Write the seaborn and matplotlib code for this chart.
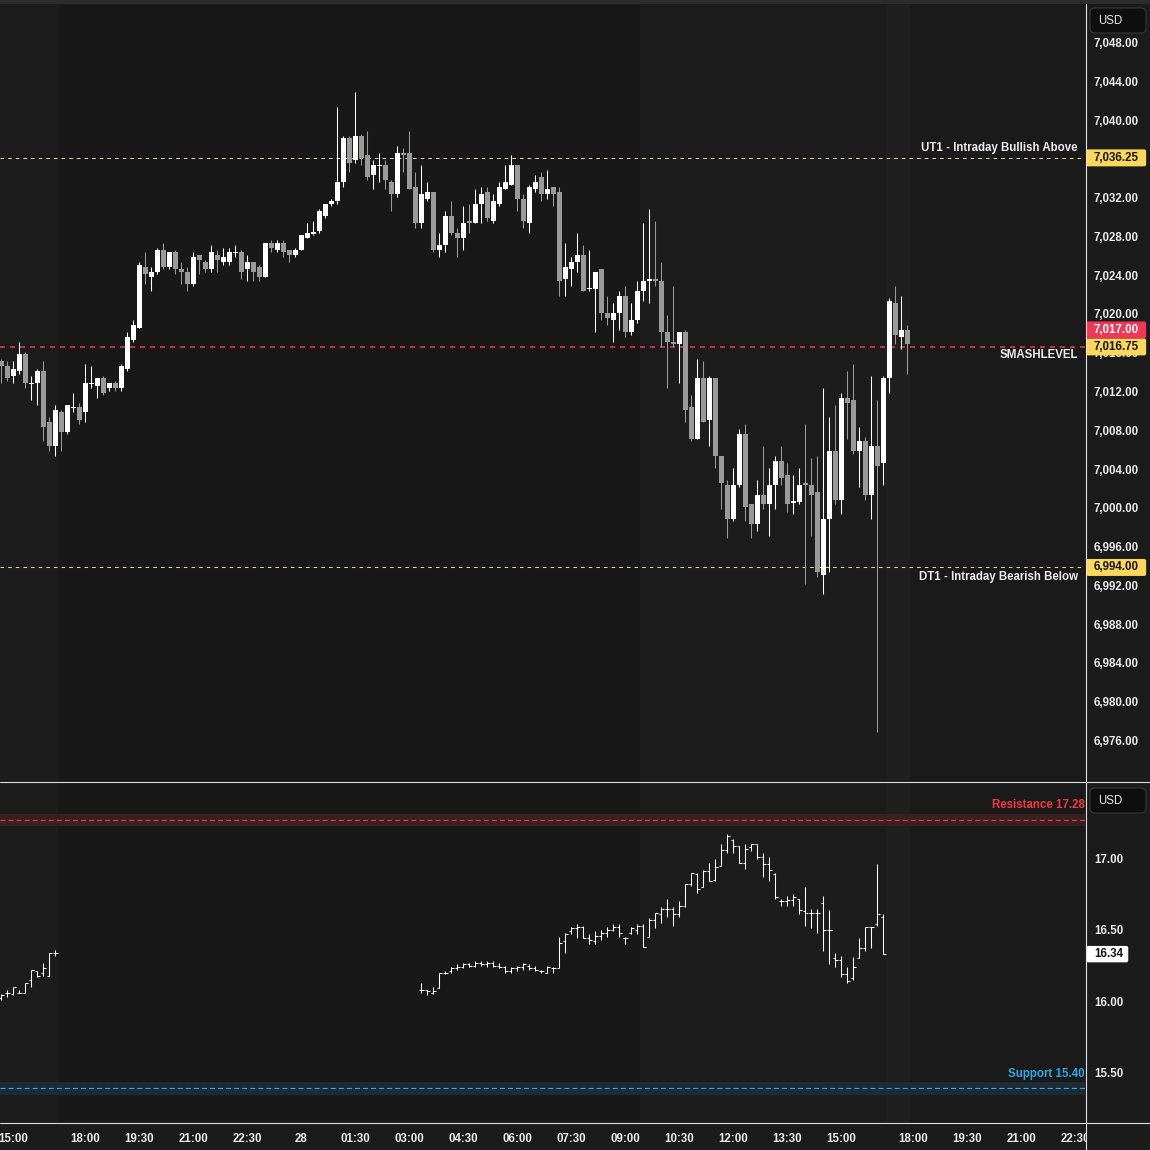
"""ES 10-minute candles with key levels, VIX OHLC bars underneath."""

import numpy as np
import pandas as pd
import matplotlib

matplotlib.use("Agg")
import matplotlib.pyplot as plt
import matplotlib.transforms as mtransforms
from matplotlib.lines import Line2D
from matplotlib.patches import Rectangle, FancyBboxPatch
import seaborn as sns

# ---------------------------------------------------------------- data
# ES 10-minute candles, first bar opens 27th 14:40 (session break 17:00-18:00 skipped)
es_start = (27, "14:40")
es_open = [
    7015.25, 7014.75, 7013.75, 7014.25, 7016.0, 7013.0, 7013.0, 7014.25, 7009.0, 7006.5,
    7010.0, 7008.0, 7010.5, 7010.5, 7010.0, 7013.0, 7012.75, 7013.5, 7012.5, 7013.0,
    7012.5, 7014.5, 7017.5, 7018.75, 7025.0, 7024.0, 7024.5, 7026.75, 7025.0, 7026.5,
    7024.75, 7024.5, 7023.25, 7026.25, 7025.5, 7024.75, 7026.25, 7025.5, 7025.5, 7026.5,
    7026.5, 7024.75, 7025.5, 7025.0, 7024.0, 7027.5, 7026.75, 7027.5, 7026.75, 7026.25,
    7026.75, 7028.0, 7028.5, 7028.75, 7030.25, 7031.5, 7031.75, 7033.75, 7038.25, 7036.0,
    7038.5, 7036.5, 7034.5, 7035.5, 7035.5, 7033.75, 7032.5, 7036.75, 7036.75, 7033.25,
    7029.5, 7032.0, 7032.75, 7026.75, 7027.25, 7030.25, 7028.5, 7028.0, 7029.75, 7029.5,
    7031.5, 7032.75, 7029.75, 7031.5, 7033.0, 7033.5, 7035.5, 7032.0, 7029.5, 7033.0,
    7034.25, 7032.5, 7033.25, 7032.75, 7023.75, 7024.75, 7025.5, 7026.25, 7022.75, 7022.75,
    7024.75, 7020.25, 7019.5, 7020.25, 7022.0, 7018.25, 7019.5, 7022.5, 7023.5, 7023.75,
    7023.5, 7018.25, 7017.25, 7017.0, 7018.25, 7010.5, 7007.25, 7013.5, 7009.25, 7013.5,
    7005.5, 7002.5, 6999.0, 7002.5, 7007.75, 7000.5, 6998.5, 7001.5, 7000.5, 7002.5,
    7005.0, 7003.5, 7000.75, 7000.75, 7002.75, 7002.5, 7001.75, 6993.25, 6999.0, 7006.0,
    7001.0, 7011.5, 7011.25, 7006.0, 7007.0, 7001.5, 7006.5, 7004.75, 7013.5, 7021.25,
    7017.75, 7018.5,
]
es_high = [
    7015.5, 7015.25, 7015.25, 7017.25, 7016.25, 7013.75, 7014.5, 7015.25, 7009.5, 7010.75,
    7010.25, 7010.75, 7012.0, 7011.0, 7015.0, 7014.75, 7013.5, 7013.75, 7013.0, 7013.25,
    7015.0, 7018.25, 7019.5, 7025.5, 7026.5, 7025.0, 7027.0, 7027.5, 7026.5, 7026.75,
    7025.5, 7025.0, 7026.5, 7026.25, 7025.75, 7027.25, 7026.75, 7027.0, 7027.0, 7027.25,
    7026.75, 7026.25, 7025.5, 7025.25, 7027.5, 7027.75, 7027.75, 7027.75, 7026.75, 7027.0,
    7028.25, 7029.5, 7029.75, 7031.0, 7031.5, 7032.0, 7041.5, 7038.5, 7038.5, 7043.0,
    7038.75, 7039.0, 7036.0, 7036.75, 7036.0, 7034.0, 7037.5, 7037.25, 7039.0, 7034.75,
    7035.5, 7033.75, 7032.75, 7028.5, 7030.75, 7031.75, 7029.0, 7031.25, 7031.5, 7033.0,
    7033.25, 7033.25, 7032.5, 7033.75, 7035.5, 7036.5, 7035.5, 7032.5, 7033.5, 7034.5,
    7034.75, 7035.0, 7033.25, 7033.25, 7027.5, 7026.0, 7028.5, 7027.25, 7026.75, 7024.5,
    7024.75, 7022.0, 7021.25, 7022.5, 7023.0, 7021.25, 7023.5, 7029.5, 7031.0, 7029.75,
    7025.5, 7020.0, 7023.0, 7018.25, 7018.5, 7011.75, 7015.5, 7015.25, 7013.75, 7013.5,
    7005.5, 7003.0, 7004.25, 7008.25, 7008.75, 7000.5, 7003.0, 7006.5, 7004.25, 7005.5,
    7006.5, 7004.75, 7003.5, 7004.25, 7008.75, 7005.25, 7005.5, 7012.5, 7009.5, 7010.75,
    7012.0, 7014.25, 7015.0, 7008.5, 7007.5, 7013.75, 7011.25, 7013.75, 7021.75, 7023.0,
    7022.0, 7019.0,
]
es_low = [
    7013.0, 7013.25, 7013.0, 7014.0, 7012.5, 7011.25, 7010.75, 7007.0, 7006.0, 7005.5,
    7006.0, 7007.75, 7010.0, 7008.75, 7009.0, 7012.5, 7011.5, 7011.75, 7012.25, 7012.25,
    7012.25, 7014.25, 7017.25, 7018.75, 7023.25, 7022.5, 7024.25, 7024.75, 7024.75, 7024.25,
    7023.25, 7022.5, 7023.0, 7024.25, 7024.5, 7024.5, 7024.5, 7025.25, 7025.25, 7026.0,
    7023.75, 7023.5, 7023.5, 7023.5, 7024.0, 7026.5, 7026.5, 7026.0, 7025.5, 7026.0,
    7026.75, 7028.0, 7028.25, 7028.5, 7030.0, 7031.25, 7031.5, 7033.25, 7034.75, 7035.75,
    7035.5, 7034.0, 7033.0, 7033.75, 7033.0, 7030.75, 7032.25, 7034.75, 7033.0, 7029.0,
    7029.0, 7031.75, 7026.5, 7026.0, 7026.5, 7028.25, 7026.0, 7026.75, 7028.5, 7029.5,
    7029.5, 7029.75, 7029.5, 7031.25, 7033.0, 7033.5, 7030.75, 7029.0, 7028.5, 7032.75,
    7031.75, 7032.0, 7031.25, 7022.0, 7022.0, 7023.0, 7024.5, 7022.5, 7022.5, 7018.25,
    7019.5, 7019.0, 7017.25, 7018.5, 7017.75, 7018.0, 7019.25, 7021.5, 7021.25, 7023.0,
    7016.75, 7012.5, 7016.75, 7013.0, 7009.0, 7007.0, 7007.25, 7009.0, 7006.5, 7004.25,
    7000.0, 6997.0, 6998.75, 7002.25, 6998.75, 6997.0, 6997.75, 7000.0, 6997.25, 7000.0,
    7002.5, 6999.75, 6999.5, 7000.5, 6992.25, 6997.25, 6993.0, 6991.25, 6993.5, 7000.5,
    6999.5, 7007.25, 7005.75, 7002.25, 7001.0, 6999.0, 6977.0, 7002.5, 7012.0, 7017.0,
    7016.5, 7014.0,
]
es_close = [
    7014.75, 7013.5, 7014.5, 7016.0, 7013.0, 7013.0, 7014.25, 7008.5, 7006.5, 7010.25,
    7008.0, 7010.75, 7010.5, 7009.25, 7013.0, 7013.0, 7013.5, 7012.0, 7013.0, 7012.5,
    7014.75, 7017.75, 7019.0, 7025.25, 7024.25, 7024.5, 7026.75, 7025.0, 7026.5, 7024.75,
    7024.5, 7023.25, 7026.0, 7025.75, 7024.75, 7026.5, 7025.75, 7026.0, 7026.5, 7026.5,
    7024.5, 7025.5, 7024.5, 7024.0, 7027.5, 7027.0, 7027.5, 7026.5, 7026.25, 7026.75,
    7028.25, 7028.5, 7028.5, 7030.75, 7031.5, 7031.75, 7033.75, 7038.25, 7035.75, 7038.5,
    7036.25, 7034.25, 7035.5, 7035.5, 7034.0, 7032.5, 7036.75, 7036.5, 7033.0, 7029.5,
    7032.5, 7032.75, 7026.75, 7027.25, 7030.25, 7028.5, 7028.0, 7029.5, 7029.5, 7031.5,
    7032.5, 7030.0, 7031.75, 7033.25, 7033.75, 7035.5, 7032.0, 7029.75, 7033.25, 7033.75,
    7032.5, 7033.0, 7032.5, 7023.5, 7025.0, 7025.5, 7026.25, 7022.5, 7022.75, 7024.5,
    7020.25, 7019.75, 7020.25, 7022.0, 7018.25, 7019.5, 7022.5, 7023.5, 7023.75, 7023.5,
    7018.25, 7017.25, 7017.0, 7018.25, 7010.25, 7007.25, 7013.5, 7009.0, 7013.5, 7005.5,
    7002.75, 6999.0, 7002.5, 7007.75, 7000.25, 6998.5, 7001.5, 7000.5, 7002.5, 7005.0,
    7003.25, 7000.5, 7000.75, 7002.5, 7002.5, 7001.5, 6993.5, 6999.0, 7006.0, 7001.0,
    7011.5, 7011.0, 7006.0, 7007.0, 7001.5, 7006.5, 7004.5, 7013.5, 7021.5, 7018.0,
    7018.5, 7017.0,
]

# VIX 10-minute OHLC bars (two stretches, nothing overnight)
vix_start_a = (27, "14:40")
vix_open_a = [16.03, 16.07, 16.06, 16.07, 16.07, 16.16, 16.22, 16.21, 16.19, 16.35]
vix_high_a = [16.06, 16.09, 16.11, 16.09, 16.14, 16.23, 16.22, 16.28, 16.35, 16.37]
vix_low_a = [16.02, 16.04, 16.05, 16.07, 16.07, 16.11, 16.18, 16.19, 16.19, 16.33]
vix_close_a = [16.05, 16.07, 16.11, 16.07, 16.14, 16.23, 16.19, 16.24, 16.35, 16.35]

vix_start_b = (28, "03:20")
vix_open_b = [
    16.09, 16.09, 16.07, 16.10, 16.21, 16.22, 16.24, 16.25, 16.27, 16.26,
    16.28, 16.27, 16.28, 16.26, 16.25, 16.22, 16.24, 16.25, 16.26, 16.24,
    16.22, 16.21, 16.24, 16.24, 16.43, 16.50, 16.52, 16.53, 16.45, 16.43,
    16.47, 16.49, 16.51, 16.53, 16.45, 16.49, 16.51, 16.54, 16.46, 16.58,
    16.62, 16.66, 16.66, 16.62, 16.68, 16.83, 16.90, 16.81, 16.92, 16.86,
    16.96, 17.07, 17.14, 17.10, 16.98, 17.09, 17.11, 17.02, 16.97, 16.90,
    16.71, 16.71, 16.72, 16.73, 16.64, 16.63, 16.63, 16.70, 16.51, 16.31,
    16.30, 16.20, 16.17, 16.31, 16.38, 16.53, 16.55, 16.60,
]
vix_high_b = [
    16.14, 16.09, 16.11, 16.21, 16.22, 16.25, 16.27, 16.28, 16.28, 16.29,
    16.29, 16.29, 16.29, 16.28, 16.26, 16.25, 16.26, 16.28, 16.27, 16.26,
    16.23, 16.26, 16.25, 16.46, 16.49, 16.53, 16.55, 16.54, 16.48, 16.50,
    16.51, 16.53, 16.55, 16.55, 16.46, 16.53, 16.55, 16.55, 16.59, 16.63,
    16.67, 16.73, 16.67, 16.71, 16.83, 16.91, 16.91, 16.93, 16.98, 17.01,
    17.11, 17.18, 17.15, 17.10, 17.11, 17.11, 17.11, 17.05, 17.02, 16.91,
    16.73, 16.75, 16.76, 16.73, 16.81, 16.66, 16.66, 16.75, 16.65, 16.35,
    16.33, 16.25, 16.32, 16.45, 16.53, 16.53, 16.97, 16.62,
]
vix_low_b = [
    16.07, 16.05, 16.06, 16.10, 16.20, 16.21, 16.23, 16.24, 16.25, 16.25,
    16.26, 16.25, 16.25, 16.24, 16.21, 16.21, 16.22, 16.23, 16.23, 16.22,
    16.21, 16.21, 16.21, 16.24, 16.35, 16.48, 16.45, 16.45, 16.41, 16.41,
    16.44, 16.46, 16.50, 16.46, 16.41, 16.48, 16.48, 16.39, 16.46, 16.52,
    16.56, 16.60, 16.54, 16.60, 16.67, 16.82, 16.77, 16.81, 16.85, 16.85,
    16.96, 17.05, 17.05, 16.98, 16.94, 17.06, 17.01, 16.88, 16.85, 16.73,
    16.68, 16.68, 16.68, 16.62, 16.54, 16.52, 16.49, 16.36, 16.27, 16.25,
    16.18, 16.14, 16.16, 16.31, 16.36, 16.38, 16.54, 16.34,
]
vix_close_b = [
    16.09, 16.08, 16.08, 16.21, 16.21, 16.24, 16.25, 16.27, 16.26, 16.28,
    16.27, 16.28, 16.26, 16.25, 16.22, 16.24, 16.25, 16.27, 16.24, 16.23,
    16.22, 16.25, 16.24, 16.42, 16.48, 16.52, 16.53, 16.45, 16.44, 16.47,
    16.49, 16.51, 16.53, 16.49, 16.45, 16.52, 16.54, 16.39, 16.58, 16.63,
    16.66, 16.66, 16.62, 16.68, 16.83, 16.91, 16.80, 16.92, 16.85, 16.95,
    17.07, 17.17, 17.10, 16.98, 17.08, 17.11, 17.02, 16.97, 16.93, 16.74,
    16.71, 16.72, 16.74, 16.65, 16.63, 16.63, 16.63, 16.51, 16.51, 16.30,
    16.20, 16.15, 16.25, 16.38, 16.53, 16.53, 16.62, 16.34,
]

tick_days = [27, 27, 27, 27, 27, 28, 28, 28, 28, 28, 28, 28, 28, 28, 28, 28, 28, 28, 28, 28]
tick_times = ["15:00", "18:00", "19:30", "21:00", "22:30", "00:00", "01:30", "03:00",
              "04:30", "06:00", "07:30", "09:00", "10:30", "12:00", "13:30", "15:00",
              "18:00", "19:30", "21:00", "22:30"]
tick_labels = ["15:00", "18:00", "19:30", "21:00", "22:30", "28", "01:30", "03:00",
               "04:30", "06:00", "07:30", "09:00", "10:30", "12:00", "13:30", "15:00",
               "18:00", "19:30", "21:00", "22:30"]

# session shading: (day, start, day, end, colour)
shade_spans = [
    (27, "09:30", 27, "16:20", "#1c1c1c"),
    (28, "09:30", 28, "16:20", "#1c1c1c"),
    (28, "16:20", 28, "18:00", "#1f1f1f"),
    (28, "18:00", 28, "23:50", "#1a1a1a"),
]

price_range = (6971.97, 7052.02)
price_ticks = [6976, 6980, 6984, 6988, 6992, 6996, 7000, 7004, 7008, 7012,
               7016, 7020, 7024, 7028, 7032, 7040, 7044, 7048]
vix_range = (15.163, 17.547)
vix_ticks = [15.50, 16.00, 16.50, 17.00]

ut1_level = 7036.25
smash_level = 7016.75
dt1_level = 6994.00
last_price = 7017.00
resistance = 17.28
support = 15.40
vix_last = 16.34

# ---------------------------------------------------------------- style
BG = "#1b1b1b"
NIGHT = "#181818"
UP = "#ffffff"
DOWN = "#9a9a9a"
TXT = "#ececec"
YEL = "#e9d68e"
TAG_YEL = "#fcd85a"
RED = "#f23655"
RES_RED = "#f23a3a"
SUP_BLUE = "#31a8e8"
SEP = "#e0e0e0"
FS = 8.3
FW = "bold"

sns.set_theme(style="dark", rc={"axes.facecolor": NIGHT, "figure.facecolor": BG})
plt.rcParams["font.family"] = ["Liberation Sans", "DejaVu Sans"]
plt.rcParams["lines.scale_dashes"] = False

W = H = 1150


def bar_index(day, hhmm):
    h, m = map(int, hhmm.split(":"))
    t = h * 60 + m
    if day == 27:
        return (t - 17 * 60) / 10 if t < 17 * 60 else (t - 18 * 60) / 10
    return (t + 6 * 60) / 10 if t < 17 * 60 else 138 + (t - 18 * 60) / 10


def px_rect(x0, y0, x1, y1):
    return [x0 / W, 1 - y1 / H, (x1 - x0) / W, (y1 - y0) / H]


es = pd.DataFrame({"open": es_open, "high": es_high, "low": es_low, "close": es_close})
es["idx"] = bar_index(*es_start) + np.arange(len(es))

vix = pd.concat([
    pd.DataFrame({"open": vix_open_a, "high": vix_high_a, "low": vix_low_a, "close": vix_close_a,
                  "idx": bar_index(*vix_start_a) + np.arange(len(vix_open_a))}),
    pd.DataFrame({"open": vix_open_b, "high": vix_high_b, "low": vix_low_b, "close": vix_close_b,
                  "idx": bar_index(*vix_start_b) + np.arange(len(vix_open_b))}),
], ignore_index=True)

x_lo = bar_index(27, "14:40") - 0.22
x_hi = bar_index(28, "22:30") + 1.62

fig = plt.figure(figsize=(11.5, 11.5), dpi=100, facecolor=BG)
ax = fig.add_axes(px_rect(0, 5, 1085, 781))
axv = fig.add_axes(px_rect(0, 782, 1085, 1122))
axr = fig.add_axes(px_rect(1086, 5, 1150, 781), zorder=5)
axrv = fig.add_axes(px_rect(1086, 782, 1150, 1122), zorder=5)
corner = fig.add_axes(px_rect(1086, 1122, 1150, 1150), zorder=5)

for a in (ax, axv):
    a.set_facecolor(NIGHT)
    a.set_xlim(x_lo, x_hi)
    a.grid(False)
    for d0, t0, d1, t1, col in shade_spans:
        a.axvspan(bar_index(d0, t0) - 0.5, bar_index(d1, t1) - 0.5, color=col, lw=0, zorder=0)
for a in (axr, axrv, corner):
    a.set_facecolor(BG)
    a.set_xlim(0, 1)
    a.set_xticks([])
    a.set_yticks([])
for a in (ax, axv, axr, axrv, corner):
    for s in a.spines.values():
        s.set_visible(False)

# ---------------------------------------------------------------- candles
ax.set_ylim(*price_range)
ax.set_yticks([])
ax.set_xticks([])
up = es["close"] >= es["open"]
cols = np.where(up, UP, DOWN)
ax.vlines(es["idx"], es["low"], es["high"], colors=cols, lw=0.75, zorder=3)
body_h = (es["close"] - es["open"]).abs()
body_lo = np.minimum(es["open"], es["close"])
doji = body_h < 0.12
body_lo = np.where(doji, es["open"] - 0.06, body_lo)
body_h = np.where(doji, 0.12, body_h)
ax.bar(es["idx"], body_h, bottom=body_lo, width=0.8, color=cols, lw=0, zorder=4)

# key levels
ax.axhline(ut1_level, color=YEL, lw=0.75, dashes=(2.6, 2.9), zorder=2)
ax.axhline(dt1_level, color=YEL, lw=0.75, dashes=(2.6, 2.9), zorder=2)
ax.axhline(smash_level, color=RED, lw=1.1, dashes=(3.6, 3.6), zorder=2)
lbl_tr = mtransforms.blended_transform_factory(ax.transAxes, ax.transData)
ax.annotate("UT1 - Intraday Bullish Above", (0.9935, ut1_level), xycoords=lbl_tr,
            xytext=(0, 7), textcoords="offset points", ha="right", va="center",
            color=TXT, fontsize=FS, fontweight=FW)
ax.annotate("SMASHLEVEL", (0.9935, smash_level), xycoords=lbl_tr,
            xytext=(0, -6), textcoords="offset points", ha="right", va="center",
            color=TXT, fontsize=FS, fontweight=FW)
ax.annotate("DT1 - Intraday Bearish Below", (0.9935, dt1_level), xycoords=lbl_tr,
            xytext=(0, -7), textcoords="offset points", ha="right", va="center",
            color=TXT, fontsize=FS, fontweight=FW)

# ---------------------------------------------------------------- VIX bars
axv.set_ylim(*vix_range)
axv.set_yticks([])
axv.vlines(vix["idx"], vix["low"], vix["high"], colors=UP, lw=0.75, zorder=3)
axv.hlines(vix["open"], vix["idx"] - 0.42, vix["idx"], colors=UP, lw=0.75, zorder=3)
axv.hlines(vix["close"], vix["idx"], vix["idx"] + 0.42, colors=UP, lw=0.75, zorder=3)

axv.axhspan(resistance - 0.042, resistance + 0.042, color="#3a1f21", lw=0, zorder=1)
axv.axhline(resistance, color=RES_RED, lw=0.8, dashes=(3.6, 2.2), zorder=2)
axv.axhspan(support - 0.045, support + 0.045, color="#1d2b34", lw=0, zorder=1)
axv.axhline(support, color=SUP_BLUE, lw=0.8, dashes=(3.6, 2.2), zorder=2)
vlbl_tr = mtransforms.blended_transform_factory(axv.transAxes, axv.transData)
axv.annotate(f"Resistance {resistance:.2f}", (0.9995, resistance), xycoords=vlbl_tr,
             xytext=(0, 11), textcoords="offset points", ha="right", va="center",
             color=RES_RED, fontsize=FS, fontweight=FW)
axv.annotate(f"Support {support:.2f}", (0.9995, support), xycoords=vlbl_tr,
             xytext=(0, 10.5), textcoords="offset points", ha="right", va="center",
             color=SUP_BLUE, fontsize=FS, fontweight=FW)

axv.set_xticks([bar_index(d, t) for d, t in zip(tick_days, tick_times)])
axv.set_xticklabels(tick_labels, fontweight=FW)
axv.tick_params(axis="x", length=0, pad=8, colors=TXT, labelsize=FS)

# ---------------------------------------------------------------- right scales
axr.set_ylim(*price_range)
for p in price_ticks:
    axr.text(0.125, p, f"{p:,.2f}", ha="left", va="center", color=TXT,
             fontsize=FS, fontweight=FW, zorder=2)

tag_h = 1.75


def price_tag(a, y, text, fc, tc, h, w=0.94):
    a.add_patch(FancyBboxPatch((0, y - h / 2), w, h, boxstyle="round,pad=0,rounding_size=0.03",
                               mutation_aspect=h / 0.03 / 8, fc=fc, ec="none", zorder=3))
    a.text(0.125, y, text, ha="left", va="center", color=tc, fontsize=FS,
           fontweight=FW, zorder=4)


price_tag(axr, ut1_level, f"{ut1_level:,.2f}", TAG_YEL, "#131313", tag_h)
price_tag(axr, dt1_level, f"{dt1_level:,.2f}", TAG_YEL, "#131313", tag_h)
price_tag(axr, smash_level, f"{smash_level:,.2f}", TAG_YEL, "#131313", tag_h)
# last price tag collides with the SMASHLEVEL tag, so it is stacked above it
price_tag(axr, smash_level + tag_h, f"{last_price:,.2f}", RED, "#ffffff", tag_h)

axrv.set_ylim(*vix_range)
for v in vix_ticks:
    axrv.text(0.125, v, f"{v:.2f}", ha="left", va="center", color=TXT,
              fontsize=FS, fontweight=FW)
price_tag(axrv, vix_last, f"{vix_last:.2f}", "#ffffff", "#131313", 0.115, w=0.66)


# USD unit boxes
def usd_box(x0, y0):
    box = FancyBboxPatch((x0 / 100, (H - y0 - 25) / 100), 0.56, 0.25,
                         boxstyle="round,pad=0,rounding_size=0.05",
                         transform=fig.dpi_scale_trans, fc="#0e0e0e", ec="#383838",
                         lw=0.8, zorder=10)
    fig.add_artist(box)
    fig.text((x0 + 8) / W, 1 - (y0 + 13) / H, "USD", color=TXT, fontsize=FS,
             ha="left", va="center", zorder=11)


usd_box(1090, 8)
usd_box(1090, 788)

# separators
fig.add_artist(Rectangle((0, 1 - 4 / H), 1, 4 / H, transform=fig.transFigure,
                         fc="#2c2c2c", ec="none", zorder=20))
fig.add_artist(Line2D([1085.5 / W] * 2, [0, 1 - 4 / H], transform=fig.transFigure,
                      color=SEP, lw=0.8, zorder=20))
for yy in (781.5, 1122.5):
    fig.add_artist(Line2D([0, 1], [1 - yy / H] * 2, transform=fig.transFigure,
                          color=SEP, lw=0.8, zorder=20))

fig.savefig("out.png", dpi=100, facecolor=BG)
